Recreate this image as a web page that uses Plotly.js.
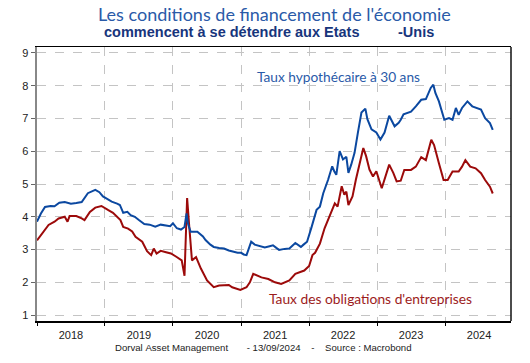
<!DOCTYPE html>
<html><head><meta charset="utf-8">
<script src="https://cdn.plot.ly/plotly-3.0.1.min.js"></script>
<style>html,body{margin:0;padding:0;background:#fff}#chart{width:530px;height:363px}</style>
</head><body><div id="chart"></div>
<script>
// Decimal-year positions and values
const mortgageT = [2018.00,2018.06,2018.12,2018.20,2018.26,2018.33,2018.41,2018.50,2018.58,2018.66,2018.75,2018.80,2018.86,2018.92,2018.97,
2019.02,2019.10,2019.18,2019.22,2019.27,2019.33,2019.38,2019.44,2019.50,2019.58,2019.66,2019.74,2019.82,2019.90,2019.96,
2020.00,2020.06,2020.12,2020.17,2020.20,2020.22,2020.26,2020.36,2020.44,2020.48,2020.55,2020.60,2020.68,2020.75,2020.82,2020.89,2020.95,
2021.00,2021.04,2021.08,2021.12,2021.15,2021.20,2021.23,2021.30,2021.35,2021.42,2021.47,2021.52,2021.56,2021.64,2021.71,2021.80,2021.85,2021.88,2021.92,2021.97,
2022.04,2022.11,2022.16,2022.21,2022.28,2022.34,2022.37,2022.40,2022.45,2022.50,2022.55,2022.58,2022.62,2022.67,2022.72,2022.77,2022.83,2022.86,2022.92,2022.99,
2023.05,2023.11,2023.18,2023.24,2023.26,2023.32,2023.35,2023.39,2023.43,2023.50,2023.57,2023.65,2023.72,2023.79,2023.83,2023.86,2023.91,2023.99,
2024.06,2024.11,2024.16,2024.20,2024.25,2024.33,2024.40,2024.47,2024.53,2024.59,2024.66,2024.70];
const mortgage = [3.85,4.10,4.30,4.33,4.32,4.43,4.45,4.40,4.42,4.45,4.72,4.77,4.82,4.75,4.62,
4.56,4.46,4.40,4.36,4.12,4.15,4.05,4.00,3.90,3.78,3.76,3.70,3.76,3.72,3.71,
3.80,3.65,3.61,3.69,4.10,3.80,3.54,3.54,3.40,3.29,3.15,3.08,3.05,3.03,2.97,2.93,2.90,
2.90,2.85,2.83,3.05,3.24,3.15,3.13,3.10,3.06,3.10,3.13,3.05,2.99,3.02,3.03,3.20,3.12,3.08,3.15,3.24,
3.70,4.21,4.31,4.72,5.13,5.54,5.39,5.28,6.00,5.75,5.83,5.34,5.59,5.95,6.57,7.18,7.30,6.98,6.67,6.57,
6.36,6.57,7.08,6.82,6.76,6.87,6.96,7.13,7.16,7.21,7.37,7.57,7.59,7.93,8.03,7.78,7.52,6.96,
7.01,6.96,7.32,7.11,7.32,7.52,7.37,7.32,7.27,7.01,6.86,6.65];

const corpT = [2018.00,2018.06,2018.12,2018.17,2018.26,2018.32,2018.41,2018.45,2018.48,2018.58,2018.66,2018.70,2018.78,2018.86,2018.95,
2019.00,2019.05,2019.12,2019.18,2019.23,2019.27,2019.34,2019.40,2019.45,2019.55,2019.62,2019.68,2019.72,2019.76,2019.82,2019.90,2019.97,
2020.05,2020.13,2020.17,2020.21,2020.24,2020.28,2020.34,2020.41,2020.50,2020.55,2020.60,2020.68,2020.75,2020.82,2020.87,2020.94,2020.99,
2021.08,2021.13,2021.18,2021.24,2021.30,2021.40,2021.50,2021.59,2021.66,2021.71,2021.80,2021.86,2021.93,
2022.00,2022.05,2022.09,2022.16,2022.23,2022.30,2022.38,2022.42,2022.48,2022.52,2022.55,2022.58,2022.64,2022.69,2022.74,2022.80,2022.84,2022.89,2022.94,2022.99,
2023.07,2023.12,2023.18,2023.24,2023.29,2023.35,2023.40,2023.50,2023.57,2023.65,2023.72,2023.80,2023.84,2023.91,2023.98,
2024.04,2024.11,2024.20,2024.25,2024.30,2024.37,2024.45,2024.53,2024.59,2024.66,2024.70];
const corp = [3.28,3.45,3.60,3.75,3.85,3.95,4.00,3.85,4.02,4.02,3.95,3.90,4.15,4.28,4.33,
4.25,4.20,4.12,4.00,3.90,3.69,3.64,3.55,3.39,3.24,2.95,2.83,3.03,2.88,2.96,2.92,2.88,
2.78,2.67,2.20,4.57,3.74,2.67,2.77,2.42,2.06,1.95,1.85,1.90,1.90,1.92,1.85,1.80,1.77,
1.85,2.00,2.26,2.20,2.15,2.10,2.00,1.95,2.00,2.06,2.26,2.30,2.36,
2.50,2.83,2.90,3.18,3.65,4.00,4.41,4.31,4.93,4.67,4.77,4.36,4.62,5.13,5.64,6.10,5.85,5.44,5.23,5.39,
4.87,5.23,5.59,5.34,5.08,5.10,5.43,5.43,5.53,5.82,5.73,6.35,6.19,5.63,5.12,
5.12,5.38,5.38,5.53,5.73,5.53,5.48,5.33,5.12,4.92,4.71];

const seriesNames = ["Taux hypothécaire à 30 ans", "Taux des obligations d'entreprises"];
const titleLine1 = "Les conditions de financement de l'économie";
const titleLine2 = "commencent à se détendre aux Etats";
const titleLine2b = "-Unis";
const footer = "Dorval Asset Management       - 13/09/2024    -    Source : Macrobond";

function toDate(t){
  const y = Math.floor(t);
  const start = Date.UTC(y,0,1), end = Date.UTC(y+1,0,1);
  const d = new Date(start + (t-y)*(end-start));
  return d.toISOString().slice(0,10);
}

const blue = '#0b48a0', red = '#9c0a0a';
const traces = [
  {x: corpT.map(toDate), y: corp, type:'scatter', mode:'lines', line:{color:red, width:2}, name:seriesNames[1], hoverinfo:'skip'},
  {x: mortgageT.map(toDate), y: mortgage, type:'scatter', mode:'lines', line:{color:blue, width:2}, name:seriesNames[0], hoverinfo:'skip'}
];

const layout = {
  width:530, height:363,
  margin:{l:37, r:19, t:47, b:42},
  paper_bgcolor:'#fff', plot_bgcolor:'#fff',
  showlegend:false,
  font:{family:'Liberation Sans, Arial, sans-serif', size:11, color:'#222'},
  xaxis:{
    type:'date', range:['2018-01-01','2024-12-20'],
    dtick:'M12', tick0:'2018-01-01', tickformat:'%Y', ticklabelmode:'period',
    ticks:'outside', ticklen:3, tickcolor:'#000', tickwidth:1,
    showgrid:true, gridcolor:'#c4c4c4', griddash:'dash', gridwidth:1,
    showline:true, linecolor:'#000', linewidth:1.5, mirror:true,
    tickfont:{size:11, color:'#222'}, zeroline:false, fixedrange:true
  },
  yaxis:{
    range:[0.82, 9.18], dtick:1, tick0:1,
    ticks:'outside', ticklen:4, tickcolor:'#666',
    showgrid:true, gridcolor:'#c4c4c4', griddash:'dash', gridwidth:1,
    showline:true, linecolor:'#888', linewidth:2.5,
    tickfont:{size:11, color:'#222'}, zeroline:false, fixedrange:true
  },
  shapes:[
    {type:'line', xref:'paper', yref:'paper', x0:1, x1:1, y0:0, y1:1, line:{color:'#111', width:1.5}}
  ],
  annotations:[
    {xref:'paper', yref:'paper', x:0.5, y:1, yshift:33, xanchor:'center', yanchor:'middle', showarrow:false,
     text:titleLine1, font:{family:'Lato, Open Sans, sans-serif', size:18, color:'#2a5aa8'}},
    {xref:'paper', yref:'paper', x:(231-37)/474, y:1, yshift:15, xanchor:'center', yanchor:'middle', showarrow:false,
     text:'<b>'+titleLine2+'</b>', font:{family:'Liberation Sans, Arial, sans-serif', size:14.5, color:'#17357c'}},
    {xref:'paper', yref:'paper', x:(416-37)/474, y:1, yshift:15, xanchor:'center', yanchor:'middle', showarrow:false,
     text:'<b>'+titleLine2b+'</b>', font:{family:'Liberation Sans, Arial, sans-serif', size:14.5, color:'#17357c'}},
    {xref:'x', yref:'y', x:toDate(2021.2), y:8.28, xanchor:'left', yanchor:'middle', showarrow:false,
     text:seriesNames[0], font:{family:'Lato, Open Sans, sans-serif', size:13.7, color:'#2a5aa8'}},
    {xref:'x', yref:'y', x:toDate(2021.38), y:1.51, xanchor:'left', yanchor:'middle', showarrow:false,
     text:seriesNames[1], font:{family:'Lato, Open Sans, sans-serif', size:13.8, color:'#9c1c1c'}},
    {xref:'paper', yref:'paper', x:(263-37)/474, y:0, yshift:-26, xanchor:'center', yanchor:'middle', showarrow:false,
     text:footer.replace(/ /g,'&nbsp;'), font:{family:'Liberation Sans, Arial, sans-serif', size:9.6, color:'#222'}}
  ]
};

Plotly.newPlot('chart', traces, layout, {staticPlot:true, displayModeBar:false});
</script></body></html>
